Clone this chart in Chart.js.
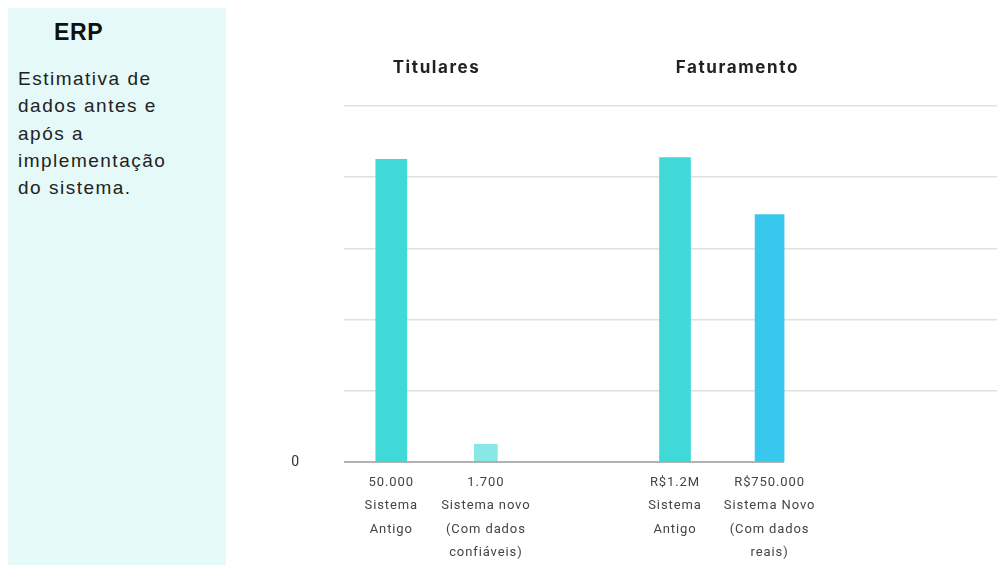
<!DOCTYPE html>
<html lang="pt-BR">
<head>
  <meta charset="UTF-8">
  <title>ERP - Titulares e Faturamento</title>
  <script src="https://cdn.jsdelivr.net/npm/chart.js"></script>
  <style>
    html, body {
      margin: 0;
      padding: 0;
      width: 997px;
      height: 565px;
      overflow: hidden;
      background: #fff;
    }

    .side {
      position: absolute;
      left: 8px;
      top: 8px;
      width: 218px;
      height: 557px;
      background: #e4f9f8;
      font-family: "Liberation Sans", Arial, sans-serif;
      color: #222;
    }

    .side h1 {
      position: absolute;
      left: 46px;
      top: 11px;
      margin: 0;
      font-size: 23px;
      letter-spacing: 0.6px;
      font-weight: bold;
      color: #111;
    }

    .side p {
      position: absolute;
      left: 10px;
      top: 57px;
      margin: 0;
      font-size: 19px;
      line-height: 27.3px;
      letter-spacing: 1.5px;
    }

    .chart-box {
      position: absolute;
      left: 230px;
      top: 0;
      width: 776px;
      height: 565px;
    }
  </style>
</head>
<body>
  <div class="side">
    <h1>ERP</h1>
    <p>Estimativa de<br>dados antes e<br>após a<br>implementação<br>do sistema.</p>
  </div>

  <div class="chart-box">
    <canvas id="chartCanvas"></canvas>
  </div>

  <script>
    // categorias (posições vazias separam os dois grupos)
    const valueLabels = ["50.000", "1.700", "", "R$1.2M", "R$750.000", "", ""];
    const categoryNames = [
      ["Sistema", "Antigo"],
      ["Sistema novo", "(Com dados", "confiáveis)"],
      [],
      ["Sistema", "Antigo"],
      ["Sistema Novo", "(Com dados", "reais)"],
      [],
      []
    ];
    // altura das barras como aparece no gráfico (escala 0-100)
    const barHeights = [85, 5, null, 85.5, 69.5, null, null];
    const barColors = ["#3fdad8", "#88e8e6", null, "#3fdad8", "#38c8ee", null, null];
    const barWidths = [31, 23, 0, 31, 29, 0, 0];
    const groupTitles = ["Titulares", "Faturamento"];
    const groupRanges = [[0, 1], [3, 4]];

    const labels = valueLabels.map((v, i) => [v].concat(categoryNames[i]));

    // um dataset por barra para permitir larguras diferentes
    const datasets = [];
    barHeights.forEach((h, i) => {
      if (h === null) return;
      datasets.push({
        data: barHeights.map((v, j) => (j === i ? v : null)),
        backgroundColor: barColors[i],
        barThickness: barWidths[i],
        skipNull: true
      });
    });

    const titleShift = [-2, 15];
    const titlesPlugin = {
      id: "groupTitles",
      beforeDraw(chart) {
        chart.ctx.letterSpacing = "0.9px";
      },
      afterDraw(chart) {
        const c = chart.ctx;
        const x = chart.scales.x;
        c.save();
        c.font = "bold 17px Inter, Roboto, sans-serif";
        c.letterSpacing = "1.6px";
        c.fillStyle = "#222";
        c.textAlign = "center";
        c.textBaseline = "middle";
        groupTitles.forEach((t, k) => {
          const r = groupRanges[k];
          const mid = (x.getPixelForValue(r[0]) + x.getPixelForValue(r[1])) / 2;
          c.fillText(t, mid + titleShift[k], 68);
        });
        c.restore();
      }
    };

    // linha de base só até o fim da última barra
    const baselinePlugin = {
      id: "baseline",
      afterDatasetsDraw(chart) {
        const c = chart.ctx;
        const y0 = chart.scales.y.getPixelForValue(0);
        let right = chart.chartArea.left;
        chart.data.datasets.forEach((d, i) => {
          const meta = chart.getDatasetMeta(i);
          d.data.forEach((v, j) => {
            const el = meta.data[j];
            if (v !== null && el) right = Math.max(right, el.x + el.width / 2);
          });
        });
        c.save();
        c.strokeStyle = "#9a9a9a";
        c.lineWidth = 1.5;
        c.beginPath();
        c.moveTo(chart.chartArea.left, y0);
        c.lineTo(right, y0);
        c.stroke();
        c.restore();
      }
    };

    const ctx = document.getElementById("chartCanvas").getContext("2d");
    new Chart(ctx, {
      type: "bar",
      data: { labels: labels, datasets: datasets },
      options: {
        responsive: true,
        maintainAspectRatio: false,
        animation: false,
        grouped: false,
        layout: { padding: { top: 106, left: 0, right: 0, bottom: 0 } },
        plugins: {
          legend: { display: false },
          tooltip: { enabled: false }
        },
        scales: {
          x: {
            grid: { display: false, drawTicks: false },
            border: { display: false },
            ticks: {
              color: "#444",
              padding: 9,
              maxRotation: 0,
              autoSkip: false,
              font: { family: "Roboto, sans-serif", size: 13, lineHeight: 1.8 }
            },
            afterFit(scale) { scale.height = 103; }
          },
          y: {
            min: 0,
            max: 100,
            grid: {
              drawTicks: false,
              lineWidth: 1.5,
              color: c => (c.tick && c.tick.value === 0 ? "rgba(0,0,0,0)" : "#e0e0e0")
            },
            border: { display: false },
            ticks: {
              stepSize: 20,
              padding: 44,
              color: "#333",
              font: { family: "Roboto, sans-serif", size: 14 },
              callback: v => (v === 0 ? "0" : "")
            },
            afterFit(scale) { scale.width = 114; }
          }
        }
      },
      plugins: [titlesPlugin, baselinePlugin]
    });
  </script>
</body>
</html>
